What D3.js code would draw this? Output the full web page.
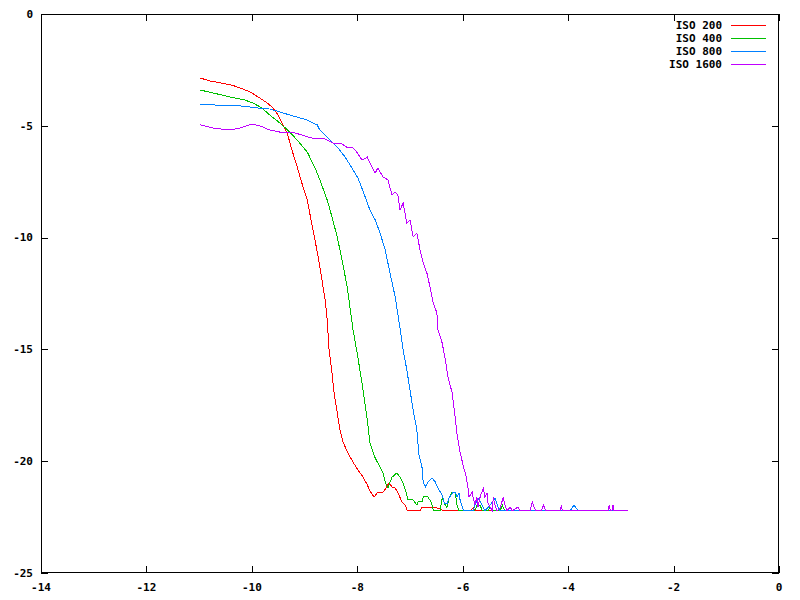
<!DOCTYPE html>
<html>
<head>
<meta charset="utf-8">
<script src="https://cdn.jsdelivr.net/npm/d3@7"></script>
<style>
  html, body { margin: 0; padding: 0; background: #fff; }
  svg text { font-family: "DejaVu Sans Mono", "Liberation Mono", monospace; font-weight: bold; font-size: 11px; fill: #000; }
</style>
</head>
<body>
<svg id="chart" width="800" height="600"></svg>
<script>
// ---- data ----
const xTicks = [-14, -12, -10, -8, -6, -4, -2, 0];
const yTicks = [-25, -20, -15, -10, -5, 0];
const seriesNames = ["ISO 200", "ISO 400", "ISO 800", "ISO 1600"];
const seriesColors = ["#ff0000", "#00c000", "#0080ff", "#c000ff"];
const FLOOR = -22.22;

const iso200 = [
  [-10.98,-2.86],[-10.79,-3.00],[-10.57,-3.09],[-10.38,-3.18],[-10.22,-3.31],[-10.03,-3.49],[-9.88,-3.71],
  [-9.71,-3.98],[-9.60,-4.20],[-9.50,-4.52],[-9.41,-4.96],[-9.33,-5.32],[-9.24,-6.08],[-9.14,-6.84],
  [-9.07,-7.42],[-8.95,-8.32],[-8.84,-9.66],[-8.74,-10.87],[-8.67,-11.90],[-8.61,-12.79],[-8.57,-13.68],
  [-8.54,-14.89],[-8.48,-16.05],[-8.44,-16.95],[-8.38,-17.84],[-8.33,-18.60],[-8.27,-19.14],[-8.18,-19.63],
  [-8.08,-20.04],[-7.99,-20.39],[-7.89,-20.71],[-7.81,-21.06],[-7.76,-21.33],[-7.68,-21.60],[-7.61,-21.38],
  [-7.51,-21.38],[-7.44,-21.15],[-7.40,-20.97],[-7.34,-21.15],[-7.28,-21.20],[-7.23,-21.42],[-7.15,-21.82],
  [-7.09,-21.96],[-7.06,-22.18],[-7.04,FLOOR],[-6.81,FLOOR],[-6.77,-22.05],[-6.58,-22.05],[-6.49,-22.09],
  [-6.39,-22.18],[-6.33,FLOOR],[-5.86,FLOOR],[-5.80,-22.09],[-5.75,FLOOR],[-2.86,FLOOR]
];
const iso400 = [
  [-10.98,-3.40],[-10.74,-3.53],[-10.41,-3.71],[-10.13,-3.85],[-9.98,-3.98],[-9.81,-4.20],[-9.66,-4.52],
  [-9.47,-4.87],[-9.28,-5.28],[-9.14,-5.64],[-8.95,-6.17],[-8.80,-6.89],[-8.71,-7.42],[-8.57,-8.32],
  [-8.48,-9.08],[-8.38,-9.97],[-8.29,-11.00],[-8.19,-12.21],[-8.14,-13.10],[-8.08,-14.13],[-7.99,-15.34],
  [-7.89,-16.82],[-7.81,-18.16],[-7.76,-19.19],[-7.66,-19.86],[-7.57,-20.26],[-7.51,-20.53],[-7.47,-20.93],
  [-7.42,-21.20],[-7.34,-20.71],[-7.25,-20.53],[-7.19,-20.71],[-7.13,-20.97],[-7.07,-21.42],[-7.04,-21.73],
  [-6.94,-21.73],[-6.87,-21.96],[-6.85,-21.82],[-6.77,-21.82],[-6.75,-21.60],[-6.66,-21.60],[-6.60,-21.82],
  [-6.56,-22.18],[-6.54,FLOOR],[-6.43,FLOOR],[-6.39,-21.65],[-6.35,-21.87],[-6.30,-22.09],[-6.26,-21.65],
  [-6.20,-21.38],[-6.14,-21.38],[-6.11,-21.96],[-6.07,FLOOR],[-5.77,FLOOR],[-5.73,-21.96],[-5.67,-21.96],
  [-5.63,FLOOR],[-5.52,FLOOR],[-5.48,-22.05],[-5.44,FLOOR],[-5.29,FLOOR],[-5.25,-21.96],[-5.20,FLOOR],
  [-2.86,FLOOR]
];
const iso800 = [
  [-10.98,-4.03],[-10.70,-4.07],[-10.22,-4.11],[-9.90,-4.20],[-9.66,-4.25],[-9.47,-4.38],[-9.22,-4.56],
  [-8.95,-4.74],[-8.76,-4.96],[-8.71,-5.19],[-8.57,-5.50],[-8.46,-5.77],[-8.38,-5.95],[-8.23,-6.40],
  [-8.10,-6.89],[-7.99,-7.33],[-7.95,-7.56],[-7.85,-8.18],[-7.76,-8.77],[-7.66,-9.21],[-7.57,-9.79],
  [-7.47,-10.55],[-7.38,-11.58],[-7.28,-12.66],[-7.19,-14.04],[-7.13,-15.03],[-7.06,-15.92],[-7.00,-16.82],
  [-6.94,-17.71],[-6.87,-18.60],[-6.83,-19.72],[-6.77,-20.30],[-6.75,-20.93],[-6.71,-21.15],[-6.66,-20.93],
  [-6.58,-20.75],[-6.52,-20.93],[-6.47,-21.20],[-6.39,-21.51],[-6.35,-21.87],[-6.30,-21.91],[-6.26,-21.65],
  [-6.18,-21.38],[-6.14,-21.38],[-6.11,-21.60],[-6.07,-21.42],[-6.05,-21.73],[-5.99,-22.18],[-5.96,FLOOR],
  [-5.80,FLOOR],[-5.77,-21.96],[-5.71,-21.65],[-5.63,-21.96],[-5.58,FLOOR],[-5.48,-21.96],[-5.39,-21.65],
  [-5.33,-22.05],[-5.29,FLOOR],[-3.96,FLOOR],[-3.89,-21.96],[-3.81,FLOOR],[-2.86,FLOOR]
];
const iso1600 = [
  [-10.98,-4.96],[-10.74,-5.10],[-10.41,-5.19],[-10.22,-5.10],[-10.00,-4.92],[-9.84,-5.01],[-9.66,-5.19],
  [-9.47,-5.28],[-9.18,-5.32],[-8.86,-5.55],[-8.65,-5.55],[-8.46,-5.77],[-8.29,-5.81],[-8.18,-5.99],
  [-8.10,-5.95],[-8.04,-6.08],[-7.91,-6.53],[-7.81,-6.40],[-7.76,-6.66],[-7.66,-7.11],[-7.61,-6.89],
  [-7.51,-7.29],[-7.42,-7.42],[-7.34,-8.09],[-7.28,-7.96],[-7.23,-8.09],[-7.19,-8.77],[-7.13,-8.45],
  [-7.06,-9.35],[-7.00,-9.21],[-6.94,-9.97],[-6.87,-9.79],[-6.81,-10.55],[-6.75,-11.14],[-6.68,-11.58],
  [-6.62,-12.21],[-6.56,-12.92],[-6.49,-13.37],[-6.47,-14.13],[-6.39,-14.71],[-6.33,-15.47],[-6.28,-16.23],
  [-6.20,-16.95],[-6.16,-17.71],[-6.11,-18.74],[-6.05,-19.59],[-5.99,-20.21],[-5.94,-20.62],[-5.90,-21.20],
  [-5.88,-21.60],[-5.82,-21.38],[-5.80,-21.65],[-5.77,-21.96],[-5.73,-21.60],[-5.71,-22.05],[-5.67,-21.60],
  [-5.61,-21.20],[-5.58,-21.60],[-5.54,-21.42],[-5.52,-21.87],[-5.44,FLOOR],[-5.42,-21.60],[-5.39,-21.96],
  [-5.35,FLOOR],[-5.29,-22.09],[-5.23,-21.60],[-5.20,-21.96],[-5.16,FLOOR],[-5.10,-22.05],[-5.06,FLOOR],
  [-4.95,-22.05],[-4.91,FLOOR],[-4.72,FLOOR],[-4.68,-21.82],[-4.65,-22.05],[-4.61,FLOOR],[-4.51,FLOOR],
  [-4.47,-21.96],[-4.42,FLOOR],[-4.15,FLOOR],[-4.13,-21.96],[-4.11,FLOOR],[-3.24,FLOOR],[-3.22,-21.96],
  [-3.20,FLOOR],[-3.17,FLOOR],[-3.15,-21.96],[-3.13,FLOOR],[-2.86,FLOOR]
];
const seriesData = [iso200, iso400, iso800, iso1600];

// ---- chart ----
const svg = d3.select("#chart");
const mLeft = 41, mRight = 779, mTop = 14, mBottom = 573;
const x = d3.scaleLinear().domain([-14, 0]).range([mLeft, mRight]);
const y = d3.scaleLinear().domain([-25, 0]).range([mBottom, mTop]);
const tickLen = 7;

// ticks (inward, mirrored)
const g = svg.append("g").attr("shape-rendering", "crispEdges").attr("stroke", "#000").attr("stroke-width", 1);
xTicks.forEach(v => {
  const px = Math.round(x(v)) + 0.5;
  g.append("line").attr("x1", px).attr("x2", px).attr("y1", mBottom).attr("y2", mBottom - tickLen);
  g.append("line").attr("x1", px).attr("x2", px).attr("y1", mTop).attr("y2", mTop + tickLen);
});
yTicks.forEach(v => {
  const py = Math.round(y(v)) + 0.5;
  g.append("line").attr("x1", mLeft).attr("x2", mLeft + tickLen).attr("y1", py).attr("y2", py);
  g.append("line").attr("x1", mRight).attr("x2", mRight - tickLen).attr("y1", py).attr("y2", py);
});

// tick labels
svg.append("g").selectAll("text").data(xTicks).join("text")
  .attr("x", d => x(d)).attr("y", mBottom + 14).attr("dy", "0.35em")
  .attr("text-anchor", "middle").text(d => d);
svg.append("g").selectAll("text").data(yTicks).join("text")
  .attr("x", mLeft - 8).attr("y", d => y(d)).attr("dy", "0.35em")
  .attr("text-anchor", "end").text(d => d);

// series
const line = d3.line().x(d => x(d[0])).y(d => y(d[1]));
seriesData.forEach((s, i) => {
  svg.append("path").datum(s)
    .attr("d", line).attr("fill", "none")
    .attr("stroke", seriesColors[i]).attr("stroke-width", 1)
    .attr("shape-rendering", "crispEdges");
});

// legend
const legend = svg.append("g");
seriesNames.forEach((name, i) => {
  const ly = 25 + i * 13;
  legend.append("text").attr("x", 722).attr("y", ly).attr("dy", "0.35em")
    .attr("text-anchor", "end").text(name);
  legend.append("line").attr("x1", 731).attr("x2", 766).attr("y1", ly + 0.5).attr("y2", ly + 0.5)
    .attr("stroke", seriesColors[i]).attr("stroke-width", 1).attr("shape-rendering", "crispEdges");
});

// border
svg.append("rect").attr("x", mLeft + 0.5).attr("y", mTop + 0.5)
  .attr("width", mRight - mLeft - 1).attr("height", mBottom - mTop - 1)
  .attr("fill", "none").attr("stroke", "#000").attr("stroke-width", 1)
  .attr("shape-rendering", "crispEdges");
</script>
</body>
</html>
